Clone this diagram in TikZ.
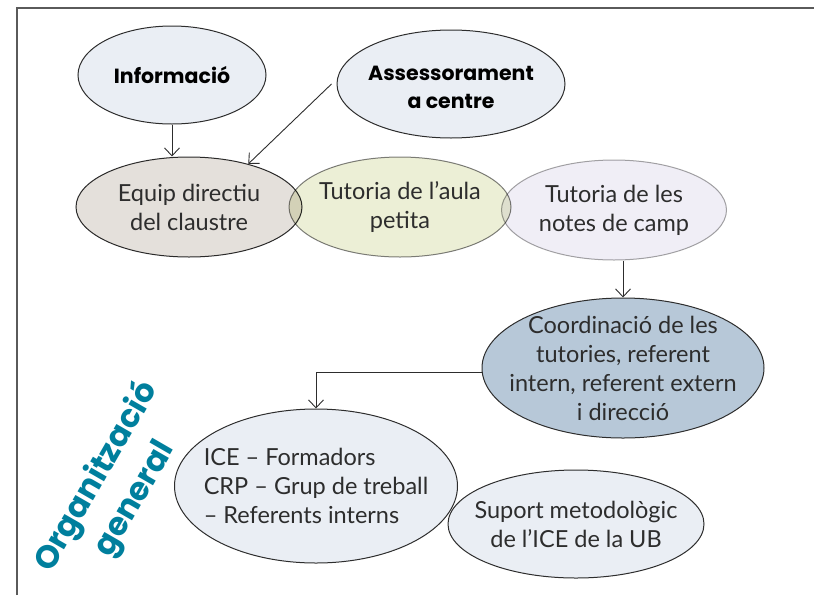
\documentclass[tikz,border=0pt]{standalone}
\usepackage{fontspec}
\setmainfont{Lato}
\newfontfamily\headfont{Poppins}
\usetikzlibrary{shapes.geometric,arrows.meta}
\definecolor{framegray}{RGB}{90,90,90}
\definecolor{inkgray}{RGB}{45,45,45}
\definecolor{paleblue}{RGB}{234,238,244}
\definecolor{stonegray}{RGB}{228,224,219}
\definecolor{paleolive}{RGB}{236,239,214}
\definecolor{palelilac}{RGB}{240,238,246}
\definecolor{steelblue}{RGB}{183,200,216}
\definecolor{orgteal}{RGB}{0,127,157}

\begin{document}
\begin{tikzpicture}[x=1pt, y=-1pt, >={Straight Barb[length=8pt,width=15pt]},
		bub/.style={ellipse, draw=inkgray, line width=1pt, inner sep=0pt},
		txt/.style={align=center, text=inkgray, font=\fontsize{23.5}{29}\selectfont},
		head/.style={align=center, text=black, font=\headfont\bfseries\fontsize{20.5}{28}\selectfont},
		link/.style={->, draw=inkgray, line width=0.9pt}]
		\useasboundingbox (0,0) rectangle (814,595);
		\draw[framegray, line width=1.5pt] (17,595) -- (17,8) -- (814,8);
		% top row
		\node[bub, fill=paleblue, minimum width=188pt, minimum height=98pt] (info) at (172,75) {};
		\node[bub, fill=paleblue, minimum width=228pt, minimum height=108pt] (assess) at (451,84) {};
		% middle row, overlapping
		\begin{scope}[blend mode=multiply]
		\node[bub, fill=stonegray, minimum width=226pt, minimum height=100pt] (equip) at (189,207) {};
		\node[bub, draw=gray, fill=paleolive, minimum width=222pt, minimum height=100pt] (aula) at (400,207) {};
		\node[bub, draw=gray!70, fill=palelilac, minimum width=225pt, minimum height=100pt] (notes) at (614,210) {};
		\end{scope}
		\node[bub, fill=steelblue, minimum width=282pt, minimum height=140pt] (coord) at (623,368) {};
		\node[bub, fill=paleblue, minimum width=283pt, minimum height=154pt] (ice) at (316,486) {};
		\node[bub, fill=paleblue, minimum width=256pt, minimum height=108pt] (suport) at (576,524) {};
		% texts
		\node[head] at (info) {Informació};
		\node[head] at ([yshift=-3pt]assess) {Assessorament\\a centre};
		\node[txt] at (equip) {Equip directiu\\del claustre};
		\node[txt] at (aula) {Tutoria de l’aula\\petita};
		\node[txt] at (notes) {Tutoria de les\\notes de camp};
		\node[txt] at (coord) {Coordinació de les\\tutories, referent\\intern, referent extern\\i direcció};
		\node[txt, align=left] at (ice) {ICE – Formadors\\CRP – Grup de treball\\– Referents interns};
		\node[txt] at (suport) {Suport metodològic\\de l’ICE de la UB};
		\node[align=center, text=orgteal, rotate=60, font=\headfont\bfseries\fontsize{32}{44}\selectfont]
			(org) at (116,488) {Organització\\general};
		% connectors
		\draw[link] (info.south) -- (info.south |- equip.north);
		\draw[link] ([xshift=-5pt]assess.west) -- (equip.36);
		\draw[link] (coord.north |- notes.south) -- (coord.north);
		\draw[link] ([yshift=-4pt]coord.west) -| (ice.north);
\end{tikzpicture}
\end{document}
